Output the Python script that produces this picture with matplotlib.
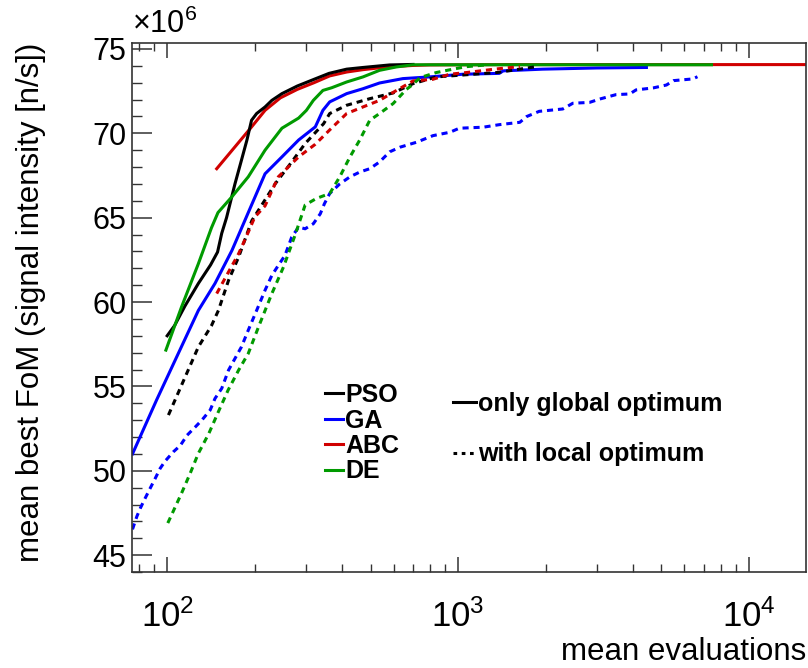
import matplotlib
matplotlib.use("Agg")
import matplotlib.pyplot as plt
from matplotlib.lines import Line2D
from matplotlib.ticker import FixedLocator, MultipleLocator, LogLocator, NullFormatter

plt.rcParams['font.family'] = ['Liberation Sans', 'DejaVu Sans']
plt.rcParams['mathtext.fontset'] = 'custom'
plt.rcParams['mathtext.rm'] = 'Liberation Sans'
plt.rcParams['mathtext.it'] = 'Liberation Sans'

# ---- data (values in units of 1e6 n/s) ----
pso_solid_x = [100, 106, 115, 128, 141, 149, 154, 160, 171, 180, 188, 195, 203, 217, 229, 248, 280, 320, 360, 414, 471, 582, 700]
pso_solid_y = [58.0, 58.6, 59.75, 61.1, 62.2, 62.96, 64.07, 65.0, 67.0, 68.4, 69.6, 70.77, 71.17, 71.56, 71.95, 72.35, 72.8, 73.2, 73.55, 73.8, 73.9, 74.05, 74.08]

abc_solid_x = [148, 193, 217, 245, 280, 320, 362, 414, 471, 537, 613, 700, 800, 1500, 15700]
abc_solid_y = [67.9, 70.28, 71.36, 72.1, 72.6, 73.0, 73.4, 73.63, 73.77, 73.88, 73.96, 74.02, 74.05, 74.07, 74.07]

ga_solid_x = [76, 92, 128, 146, 167, 190, 217, 248, 283, 323, 343, 362, 414, 471, 537, 646, 797, 1040, 1385, 1430, 1950, 2990, 4440]
ga_solid_y = [51.0, 54.2, 59.5, 61.1, 63.06, 65.3, 67.6, 68.6, 69.6, 70.38, 71.36, 71.86, 72.35, 72.64, 72.98, 73.24, 73.34, 73.5, 73.55, 73.7, 73.8, 73.87, 73.9]

de_solid_x = [99, 112, 128, 142, 149.5, 167, 190, 217, 248, 283, 301, 318, 343, 368, 414, 471, 537, 613, 700, 7430]
de_solid_y = [57.15, 59.7, 62.27, 64.4, 65.3, 66.24, 67.42, 69.0, 70.3, 70.9, 71.36, 71.95, 72.54, 72.7, 73.04, 73.34, 73.73, 73.93, 74.06, 74.06]

pso_dash_x = [101, 109, 128, 142, 150, 162.5, 176, 195.5, 206, 235, 268, 298, 345, 362, 414, 497, 598, 700, 842, 1360, 1860]
pso_dash_y = [53.3, 54.6, 57.34, 58.6, 59.5, 61.28, 62.66, 64.83, 65.44, 67.0, 68.3, 69.39, 70.57, 71.17, 71.66, 72.05, 72.39, 72.94, 73.34, 73.6, 73.95]

abc_dash_x = [148, 162.5, 176, 190, 200, 217, 241, 283, 323, 362, 414, 471, 537, 630, 700, 819, 936, 1070, 1350, 1630]
abc_dash_y = [60.5, 61.78, 62.86, 64.14, 65.03, 65.7, 67.42, 68.6, 69.35, 70.2, 71.17, 71.56, 71.95, 72.65, 73.1, 73.2, 73.5, 73.6, 73.81, 73.95]

de_dash_x = [100.5, 112, 120, 128, 139, 150, 162, 176, 190, 206, 229, 251, 275, 298, 326, 362, 392, 425, 459, 497, 537, 598, 664, 700, 740, 842, 960, 1070, 1250]
de_dash_y = [46.9, 48.66, 49.85, 51.03, 52.2, 53.5, 54.78, 55.96, 56.95, 58.52, 60.5, 62.07, 63.95, 65.75, 66.14, 66.43, 67.42, 68.6, 69.6, 70.77, 71.17, 71.76, 72.6, 72.9, 73.3, 73.6, 73.8, 73.95, 74.05]

ga_dash_x = [76, 78.7, 80.8, 84, 87.4, 91, 94.6, 98.4, 105, 111, 117, 125, 131.6, 140.6, 146, 154, 162.5, 171, 180, 190, 203, 217, 229, 241, 254, 268, 283, 298, 318, 336, 347, 362, 392, 425, 459, 497, 537, 582, 630, 720, 820, 937, 1010, 1220, 1385, 1630, 1720, 1900, 2290, 2480, 2830, 3070, 3490, 3890, 4090, 4690, 5200, 5500, 6400, 6650]
ga_dash_y = [46.53, 47.3, 47.77, 48.37, 48.96, 49.55, 50.14, 50.57, 51.12, 51.5, 52.1, 52.6, 53.0, 53.6, 54.28, 54.88, 55.96, 56.65, 57.34, 58.33, 59.5, 60.7, 61.58, 62.17, 62.76, 63.85, 64.44, 64.34, 64.64, 65.23, 65.82, 66.43, 67.0, 67.42, 67.7, 67.9, 68.3, 68.9, 69.17, 69.47, 69.86, 70.06, 70.3, 70.36, 70.51, 70.65, 70.99, 71.3, 71.44, 71.78, 71.83, 72.03, 72.29, 72.33, 72.57, 72.69, 72.86, 73.12, 73.22, 73.35]

algorithms = ['PSO', 'GA', 'ABC', 'DE']
colors = {'PSO': '#000000', 'GA': '#0000ff', 'ABC': '#d00000', 'DE': '#009a00'}
yticks = [45, 50, 55, 60, 65, 70, 75]
xticks = [1e2, 1e3, 1e4]
xticklabels = ['$10^{2}$', '$10^{3}$', '$10^{4}$']

fig = plt.figure(figsize=(8.08, 6.68), dpi=100)
ax = fig.add_axes([132/808, 1-572/668, (806-132)/808, (572-43)/668])

LW = 2.2
DASH = (0, (2.0, 1.6))

ax.plot(abc_solid_x, abc_solid_y, color=colors['ABC'], lw=LW)
ax.plot(pso_solid_x, pso_solid_y, color=colors['PSO'], lw=LW)
ax.plot(ga_solid_x, ga_solid_y, color=colors['GA'], lw=LW)
ax.plot(de_solid_x, de_solid_y, color=colors['DE'], lw=LW)

ax.plot(pso_dash_x, pso_dash_y, color=colors['PSO'], lw=LW, linestyle=DASH)
ax.plot(ga_dash_x, ga_dash_y, color=colors['GA'], lw=LW, linestyle=DASH)
ax.plot(abc_dash_x, abc_dash_y, color=colors['ABC'], lw=LW, linestyle=DASH)
ax.plot(de_dash_x, de_dash_y, color=colors['DE'], lw=LW, linestyle=DASH)

ax.set_xscale('log')
ax.set_xlim(75.7, 15700)
ax.set_ylim(44.0, 75.35)

ax.xaxis.set_major_locator(FixedLocator(xticks))
ax.set_xticklabels(xticklabels)
ax.xaxis.set_minor_locator(LogLocator(base=10, subs=range(2, 10)))
ax.xaxis.set_minor_formatter(NullFormatter())
ax.yaxis.set_major_locator(FixedLocator(yticks))
ax.yaxis.set_minor_locator(MultipleLocator(1))

for s in ax.spines.values():
    s.set_linewidth(1.2)
    s.set_color('#333333')

ax.tick_params(axis='y', which='major', direction='in', length=14.4, width=1.1,
               left=True, right=False, labelsize=22, pad=4, color='#333333')
ax.tick_params(axis='y', which='minor', direction='in', length=7.2, width=1.0,
               left=True, right=False, color='#333333')
ax.tick_params(axis='x', which='major', direction='in', length=11, width=1.1,
               bottom=True, top=True, labelsize=25, pad=20, color='#333333')
ax.tick_params(axis='x', which='minor', direction='in', length=5.8, width=1.0,
               bottom=True, top=True, color='#333333')

ax.set_ylabel('mean best FoM (signal intensity [n/s])', fontsize=22.5, loc='top', labelpad=33)
ax.set_xlabel('mean evaluations', fontsize=22.5, loc='right', labelpad=2)

ax.text(0.0, 1.005, r'$\times10^{6}$', transform=ax.transAxes, fontsize=22,
        ha='left', va='bottom')

# legend 1: algorithms
handles1 = [Line2D([], [], color=colors[a], lw=LW) for a in algorithms]
leg1 = ax.legend(handles1, algorithms, loc='upper left',
                 bbox_to_anchor=(325/808, 1-383/668), bbox_transform=fig.transFigure,
                 frameon=False, borderpad=0, borderaxespad=0, handlelength=0.72,
                 handletextpad=0.08, labelspacing=0.06,
                 prop={'size': 18, 'weight': 'bold'})
ax.add_artist(leg1)

handles2 = [Line2D([], [], color='black', lw=LW),
            Line2D([], [], color='black', lw=LW, linestyle=(0, (1.2, 1.5)))]
leg2 = ax.legend(handles2, ['only global optimum', 'with local optimum'], loc='upper left',
                 bbox_to_anchor=(453/808, 1-392/668), bbox_transform=fig.transFigure,
                 frameon=False, borderpad=0, borderaxespad=0, handlelength=0.92,
                 handletextpad=0.08, labelspacing=1.06,
                 prop={'size': 18, 'weight': 'bold'})

fig.savefig('out.png', dpi=100)
